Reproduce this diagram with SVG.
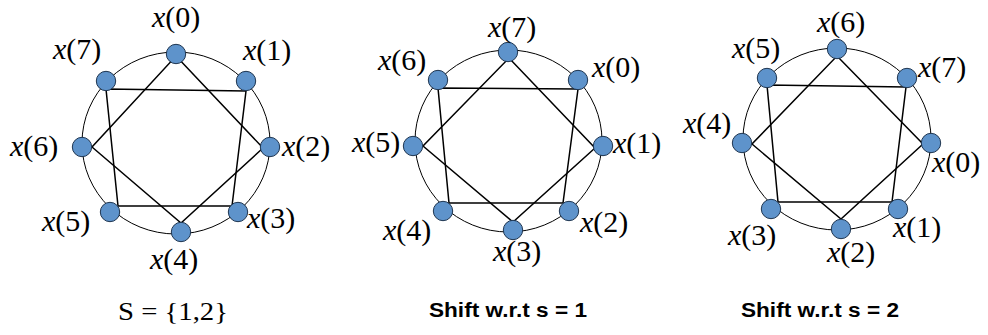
<svg xmlns="http://www.w3.org/2000/svg" width="988" height="335" viewBox="0 0 988 335">
<defs>
<circle id="dot" r="9.7" fill="#5E93CB" stroke="#1E3550" stroke-width="1"/>
</defs>
<rect width="988" height="335" fill="#fff"/>
<g id="rings" fill="none" stroke="#000" stroke-width="1">
<ellipse cx="176" cy="143" rx="94" ry="91"/>
<ellipse cx="508.5" cy="141" rx="93.5" ry="91"/>
<ellipse cx="837" cy="139" rx="94" ry="91"/>
</g>
<g id="connectors" fill="none" stroke="#000" stroke-width="1.5">
<polygon points="106,89 246,91 232,206 118,206"/>
<polygon points="176,56 263,148 181,223 92,147"/>
<polygon points="438,88 578,89 563,203 449,203"/>
<polygon points="509,58 595,148 513,222 423,146"/>
<polygon points="767,85 906,87 892,202 778,202"/>
<polygon points="837,56 923,144 841,219 752,144"/>
</g>
<g id="graph1">
<g id="g1n0"><use href="#dot" x="176" y="54"/><text x="152" y="27" font-family="Liberation Serif" font-size="30"><tspan font-style="italic">x</tspan>(0)</text></g>
<g id="g1n1"><use href="#dot" x="246" y="81"/><text x="243" y="60" font-family="Liberation Serif" font-size="30"><tspan font-style="italic">x</tspan>(1)</text></g>
<g id="g1n2"><use href="#dot" x="270" y="147"/><text x="282" y="156" font-family="Liberation Serif" font-size="30"><tspan font-style="italic">x</tspan>(2)</text></g>
<g id="g1n3"><use href="#dot" x="238" y="212"/><text x="247" y="228" font-family="Liberation Serif" font-size="30"><tspan font-style="italic">x</tspan>(3)</text></g>
<g id="g1n4"><use href="#dot" x="181" y="232"/><text x="150" y="269" font-family="Liberation Serif" font-size="30"><tspan font-style="italic">x</tspan>(4)</text></g>
<g id="g1n5"><use href="#dot" x="110" y="212"/><text x="42" y="231" font-family="Liberation Serif" font-size="30"><tspan font-style="italic">x</tspan>(5)</text></g>
<g id="g1n6"><use href="#dot" x="82" y="147"/><text x="10" y="156" font-family="Liberation Serif" font-size="30"><tspan font-style="italic">x</tspan>(6)</text></g>
<g id="g1n7"><use href="#dot" x="106" y="81"/><text x="53" y="59" font-family="Liberation Serif" font-size="30"><tspan font-style="italic">x</tspan>(7)</text></g>
</g>
<g id="graph2">
<g id="g2n7"><use href="#dot" x="508" y="52"/><text x="488" y="37" font-family="Liberation Serif" font-size="30"><tspan font-style="italic">x</tspan>(7)</text></g>
<g id="g2n0"><use href="#dot" x="578" y="80"/><text x="592" y="77" font-family="Liberation Serif" font-size="30"><tspan font-style="italic">x</tspan>(0)</text></g>
<g id="g2n1"><use href="#dot" x="603" y="146"/><text x="613" y="153" font-family="Liberation Serif" font-size="30"><tspan font-style="italic">x</tspan>(1)</text></g>
<g id="g2n2"><use href="#dot" x="569" y="211"/><text x="580" y="232" font-family="Liberation Serif" font-size="30"><tspan font-style="italic">x</tspan>(2)</text></g>
<g id="g2n3"><use href="#dot" x="513" y="230"/><text x="493" y="261" font-family="Liberation Serif" font-size="30"><tspan font-style="italic">x</tspan>(3)</text></g>
<g id="g2n4"><use href="#dot" x="443" y="211"/><text x="383" y="240" font-family="Liberation Serif" font-size="30"><tspan font-style="italic">x</tspan>(4)</text></g>
<g id="g2n5"><use href="#dot" x="413" y="146"/><text x="352" y="152" font-family="Liberation Serif" font-size="30"><tspan font-style="italic">x</tspan>(5)</text></g>
<g id="g2n6"><use href="#dot" x="438" y="80"/><text x="378" y="70" font-family="Liberation Serif" font-size="30"><tspan font-style="italic">x</tspan>(6)</text></g>
</g>
<g id="graph3">
<g id="g3n6"><use href="#dot" x="837" y="49"/><text x="817" y="32" font-family="Liberation Serif" font-size="30"><tspan font-style="italic">x</tspan>(6)</text></g>
<g id="g3n7"><use href="#dot" x="907" y="78"/><text x="918" y="77" font-family="Liberation Serif" font-size="30"><tspan font-style="italic">x</tspan>(7)</text></g>
<g id="g3n0"><use href="#dot" x="931" y="143"/><text x="932" y="172" font-family="Liberation Serif" font-size="30"><tspan font-style="italic">x</tspan>(0)</text></g>
<g id="g3n1"><use href="#dot" x="898" y="209"/><text x="893" y="237" font-family="Liberation Serif" font-size="30"><tspan font-style="italic">x</tspan>(1)</text></g>
<g id="g3n2"><use href="#dot" x="841" y="229"/><text x="827" y="262" font-family="Liberation Serif" font-size="30"><tspan font-style="italic">x</tspan>(2)</text></g>
<g id="g3n3"><use href="#dot" x="771" y="209"/><text x="728" y="245" font-family="Liberation Serif" font-size="30"><tspan font-style="italic">x</tspan>(3)</text></g>
<g id="g3n4"><use href="#dot" x="742" y="143"/><text x="683" y="133" font-family="Liberation Serif" font-size="30"><tspan font-style="italic">x</tspan>(4)</text></g>
<g id="g3n5"><use href="#dot" x="767" y="78"/><text x="732" y="58" font-family="Liberation Serif" font-size="30"><tspan font-style="italic">x</tspan>(5)</text></g>
</g>
<g id="captions">
<text x="173" y="320" font-family="Liberation Serif" font-size="26" text-anchor="middle" textLength="110" lengthAdjust="spacingAndGlyphs">S = {1,2}</text>
<text x="508" y="317" font-family="Liberation Sans" font-weight="bold" font-size="20" text-anchor="middle" textLength="158" lengthAdjust="spacingAndGlyphs">Shift w.r.t s = 1</text>
<text x="820" y="317" font-family="Liberation Sans" font-weight="bold" font-size="20" text-anchor="middle" textLength="158" lengthAdjust="spacingAndGlyphs">Shift w.r.t s = 2</text>
</g>
</svg>
